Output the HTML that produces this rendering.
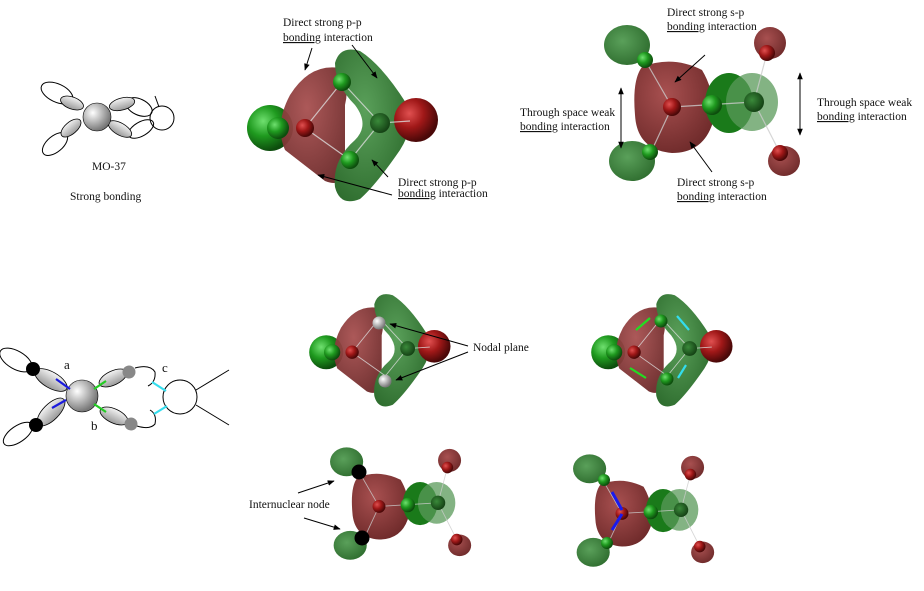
<!DOCTYPE html>
<html><head><meta charset="utf-8"><style>
html,body{margin:0;padding:0;background:#fff;}
svg{display:block}
text{font-family:"Liberation Serif",serif;font-size:11.5px;fill:#111}
</style></head><body>
<svg width="924" height="591" viewBox="0 0 924 591" xmlns="http://www.w3.org/2000/svg">
<defs>
<radialGradient id="gS" cx="35%" cy="35%" r="65%"><stop offset="0" stop-color="#6fe06f"/><stop offset="0.5" stop-color="#1f9a1f"/><stop offset="1" stop-color="#0d4d0d"/></radialGradient>
<radialGradient id="rS" cx="35%" cy="35%" r="65%"><stop offset="0" stop-color="#e05050"/><stop offset="0.5" stop-color="#a01818"/><stop offset="1" stop-color="#4a0808"/></radialGradient>
<radialGradient id="gB" cx="40%" cy="40%" r="70%"><stop offset="0" stop-color="#5aa05a"/><stop offset="1" stop-color="#2c6a2c"/></radialGradient>
<radialGradient id="rB" cx="40%" cy="35%" r="70%"><stop offset="0" stop-color="#a85050"/><stop offset="1" stop-color="#6e2a2a"/></radialGradient>
<radialGradient id="wS" cx="35%" cy="35%" r="65%"><stop offset="0" stop-color="#fff"/><stop offset="1" stop-color="#777"/></radialGradient>
<linearGradient id="lobe" x1="0" y1="0" x2="0" y2="1"><stop offset="0" stop-color="#f4f4f4"/><stop offset="1" stop-color="#999"/></linearGradient>
<radialGradient id="dG" cx="40%" cy="40%" r="65%"><stop offset="0" stop-color="#3a8a3a"/><stop offset="1" stop-color="#123d12"/></radialGradient>
<marker id="ah" viewBox="0 0 10 10" refX="9" refY="5" markerWidth="7" markerHeight="7" orient="auto-start-reverse"><path d="M0,1 L10,5 L0,9 z" fill="#000"/></marker>

<g id="molA">
  <circle cx="-70" cy="3" r="23" fill="url(#gS)"/>
  <path d="M-50,-30 Q-30,-62 0,-57 Q10,-40 5,-20 L5,50 Q0,62 -15,56 L-55,25 Q-66,0 -50,-30 Z" fill="url(#rB)" opacity="0.95"/>
  <path d="M-5,-62 Q0,-80 20,-74 Q42,-60 66,-22 Q76,0 60,25 Q36,60 20,74 Q0,82 -5,62 Q-8,35 15,15 Q30,0 15,-20 Q-5,-40 -5,-62 Z" fill="url(#gB)"/>
  <circle cx="76" cy="-5" r="22" fill="url(#rS)"/>
  <g stroke="#ddd" stroke-width="1.2" opacity="0.8">
    <line x1="-35" y1="3" x2="2" y2="-43"/><line x1="-35" y1="3" x2="10" y2="35"/>
    <line x1="2" y1="-43" x2="40" y2="-2"/><line x1="10" y1="35" x2="40" y2="-2"/><line x1="40" y1="-2" x2="70" y2="-4"/>
  </g>
  <circle cx="-62" cy="3" r="11" fill="url(#gS)"/>
  <circle cx="-35" cy="3" r="9" fill="url(#rS)"/>
  <circle cx="40" cy="-2" r="10" fill="url(#dG)"/>
</g>

<g id="molB">
  <ellipse cx="-45" cy="-60" rx="23" ry="20" fill="url(#gB)"/>
  <ellipse cx="-40" cy="56" rx="23" ry="20" fill="url(#gB)"/>
  <ellipse cx="98" cy="-62" rx="16" ry="16" fill="url(#rB)"/>
  <ellipse cx="112" cy="56" rx="16" ry="15" fill="url(#rB)"/>
  <path d="M-30,-38 Q0,-50 30,-35 Q45,-10 40,20 Q30,48 0,48 Q-35,45 -37,10 Q-40,-25 -30,-38 Z" fill="url(#rB)"/>
  <ellipse cx="57" cy="-2" rx="24" ry="30" fill="#1a7a1a"/>
  <ellipse cx="80" cy="-3" rx="26" ry="29" fill="#5a9a5a" opacity="0.75"/>
  <g stroke="#ccc" stroke-width="1.2" opacity="0.8">
    <line x1="0" y1="2" x2="-27" y2="-45"/><line x1="0" y1="2" x2="-20" y2="45"/>
    <line x1="0" y1="2" x2="82" y2="-3"/><line x1="82" y1="-3" x2="95" y2="-52"/><line x1="82" y1="-3" x2="108" y2="48"/>
  </g>
  <circle cx="0" cy="2" r="9" fill="url(#rS)"/>
  <circle cx="40" cy="0" r="10" fill="url(#gS)"/>
  <circle cx="82" cy="-3" r="10" fill="url(#dG)"/>
  <circle cx="95" cy="-52" r="8" fill="url(#rS)"/>
  <circle cx="108" cy="48" r="8" fill="url(#rS)"/>
</g>
</defs>

<!-- Top-left sketch -->
<g fill="none" stroke="#000" stroke-width="1">
  <ellipse cx="57" cy="93" rx="17" ry="9" transform="rotate(25 57 93)"/>
  <ellipse cx="55" cy="144" rx="15" ry="8" transform="rotate(-40 55 144)"/>
  <ellipse cx="139" cy="107" rx="14" ry="8" transform="rotate(25 139 107)"/>
  <ellipse cx="141" cy="129" rx="14" ry="7" transform="rotate(-30 141 129)"/>
  <circle cx="162" cy="118" r="12"/>
  <line x1="155" y1="96" x2="159" y2="107"/>
</g>
<g fill="url(#lobe)" stroke="#000" stroke-width="0.8">
  <ellipse cx="72" cy="103" rx="12" ry="6" transform="rotate(20 72 103)"/>
  <ellipse cx="71" cy="128" rx="12" ry="6" transform="rotate(-40 71 128)"/>
  <ellipse cx="122" cy="104" rx="13" ry="6" transform="rotate(-15 122 104)"/>
  <ellipse cx="120" cy="129" rx="13" ry="6" transform="rotate(30 120 129)"/>
</g>
<circle cx="97" cy="117" r="14" fill="url(#wS)" stroke="#000" stroke-width="0.6"/>
<text x="92" y="170">MO-37</text>
<text x="70" y="200">Strong bonding</text>

<!-- Top-middle -->
<use href="#molA" transform="translate(340,125)"/>
<circle cx="342" cy="82" r="9" fill="url(#gS)"/>
<circle cx="350" cy="160" r="9" fill="url(#gS)"/>
<text x="283" y="26">Direct strong p-p</text>
<text x="283" y="41"><tspan text-decoration="underline">bonding</tspan> interaction</text>
<line x1="312" y1="48" x2="305" y2="70" stroke="#000" marker-end="url(#ah)"/>
<line x1="352" y1="45" x2="377" y2="78" stroke="#000" marker-end="url(#ah)"/>
<text x="398" y="186">Direct strong p-p</text>
<text x="398" y="197"><tspan text-decoration="underline">bonding</tspan> interaction</text>
<line x1="392" y1="195" x2="318" y2="175" stroke="#000" marker-end="url(#ah)"/>
<line x1="388" y1="177" x2="372" y2="160" stroke="#000" marker-end="url(#ah)"/>

<!-- Top-right -->
<use href="#molB" transform="translate(672,105)"/>
<circle cx="645" cy="60" r="8" fill="url(#gS)"/>
<circle cx="650" cy="152" r="8" fill="url(#gS)"/>
<text x="667" y="16">Direct strong s-p</text>
<text x="667" y="30"><tspan text-decoration="underline">bonding</tspan> interaction</text>
<line x1="705" y1="55" x2="675" y2="82" stroke="#000" marker-end="url(#ah)"/>
<text x="520" y="116">Through space weak</text>
<text x="520" y="130"><tspan text-decoration="underline">bonding</tspan> interaction</text>
<line x1="621" y1="88" x2="621" y2="148" stroke="#000" marker-start="url(#ah)" marker-end="url(#ah)"/>
<text x="817" y="106">Through space weak</text>
<text x="817" y="120"><tspan text-decoration="underline">bonding</tspan> interaction</text>
<line x1="800" y1="73" x2="800" y2="135" stroke="#000" marker-start="url(#ah)" marker-end="url(#ah)"/>
<text x="677" y="186">Direct strong s-p</text>
<text x="677" y="200"><tspan text-decoration="underline">bonding</tspan> interaction</text>
<line x1="712" y1="172" x2="690" y2="142" stroke="#000" marker-end="url(#ah)"/>

<!-- Bottom-left sketch -->
<g fill="none" stroke="#000" stroke-width="1">
  <ellipse cx="16" cy="360" rx="18" ry="9" transform="rotate(30 16 360)"/>
  <ellipse cx="18" cy="434" rx="17" ry="8" transform="rotate(-35 18 434)"/>
  <path d="M135,368 Q150,364 155,372 Q156,382 148,386"/>
  <path d="M137,426 Q150,430 155,424 Q157,414 150,410"/>
  <circle cx="180" cy="397" r="17"/>
  <line x1="196" y1="390" x2="229" y2="370"/>
  <line x1="196" y1="405" x2="229" y2="425"/>
</g>
<g fill="url(#lobe)" stroke="#000" stroke-width="0.8">
  <ellipse cx="51" cy="380" rx="18" ry="8" transform="rotate(30 51 380)"/>
  <ellipse cx="51" cy="412" rx="18" ry="8" transform="rotate(-45 51 412)"/>
  <ellipse cx="113" cy="378" rx="15" ry="7" transform="rotate(-25 113 378)"/>
  <ellipse cx="114" cy="416" rx="15" ry="7" transform="rotate(25 114 416)"/>
</g>
<circle cx="82" cy="396" r="16" fill="url(#wS)" stroke="#000" stroke-width="0.6"/>
<circle cx="33" cy="369" r="7" fill="#000"/>
<circle cx="36" cy="425" r="7" fill="#000"/>
<circle cx="129" cy="372" r="6.5" fill="#888"/>
<circle cx="131" cy="424" r="6.5" fill="#888"/>
<g stroke-width="2.2">
  <line x1="56" y1="379" x2="70" y2="389" stroke="#1a1add"/>
  <line x1="52" y1="408" x2="66" y2="400" stroke="#1a1add"/>
  <line x1="94" y1="389" x2="106" y2="381" stroke="#22cc22"/>
  <line x1="94" y1="404" x2="106" y2="412" stroke="#22cc22"/>
  <line x1="152" y1="382" x2="166" y2="391" stroke="#33ddee"/>
  <line x1="154" y1="414" x2="167" y2="406" stroke="#33ddee"/>
</g>
<text x="64" y="369" style="font-size:13px">a</text>
<text x="91" y="430" style="font-size:13px">b</text>
<text x="162" y="372" style="font-size:13px">c</text>

<!-- Bottom-middle A (nodal) -->
<use href="#molA" transform="translate(378,350) scale(0.74)"/>
<circle cx="379" cy="323" r="6.5" fill="url(#wS)"/>
<circle cx="385" cy="381" r="6.5" fill="url(#wS)"/>
<text x="473" y="351">Nodal plane</text>
<line x1="468" y1="346" x2="390" y2="324" stroke="#000" marker-end="url(#ah)"/>
<line x1="468" y1="352" x2="396" y2="380" stroke="#000" marker-end="url(#ah)"/>

<!-- Bottom-right A -->
<use href="#molA" transform="translate(660,350) scale(0.74)"/>
<circle cx="661" cy="321" r="6.5" fill="url(#gS)"/>
<circle cx="667" cy="379" r="6.5" fill="url(#gS)"/>
<g stroke-width="2.2">
  <line x1="636" y1="330" x2="650" y2="318" stroke="#22dd22"/>
  <line x1="630" y1="368" x2="646" y2="378" stroke="#22dd22"/>
  <line x1="677" y1="316" x2="689" y2="330" stroke="#33ddee"/>
  <line x1="678" y1="378" x2="686" y2="365" stroke="#33ddee"/>
</g>

<!-- Bottom-middle B -->
<use href="#molB" transform="translate(379,505) scale(0.72)"/>
<circle cx="359" cy="472" r="7.5" fill="#000"/>
<circle cx="362" cy="538" r="7.5" fill="#000"/>
<text x="249" y="508">Internuclear node</text>
<line x1="298" y1="493" x2="334" y2="481" stroke="#000" marker-end="url(#ah)"/>
<line x1="304" y1="518" x2="340" y2="529" stroke="#000" marker-end="url(#ah)"/>

<!-- Bottom-right B -->
<use href="#molB" transform="translate(622,512) scale(0.72)"/>
<circle cx="604" cy="480" r="6" fill="url(#gS)"/>
<circle cx="607" cy="543" r="6" fill="url(#gS)"/>
<g stroke="#1a1aee" stroke-width="3">
  <line x1="612" y1="492" x2="622" y2="510"/>
  <line x1="612" y1="530" x2="622" y2="514"/>
</g>
</svg>
</body></html>
